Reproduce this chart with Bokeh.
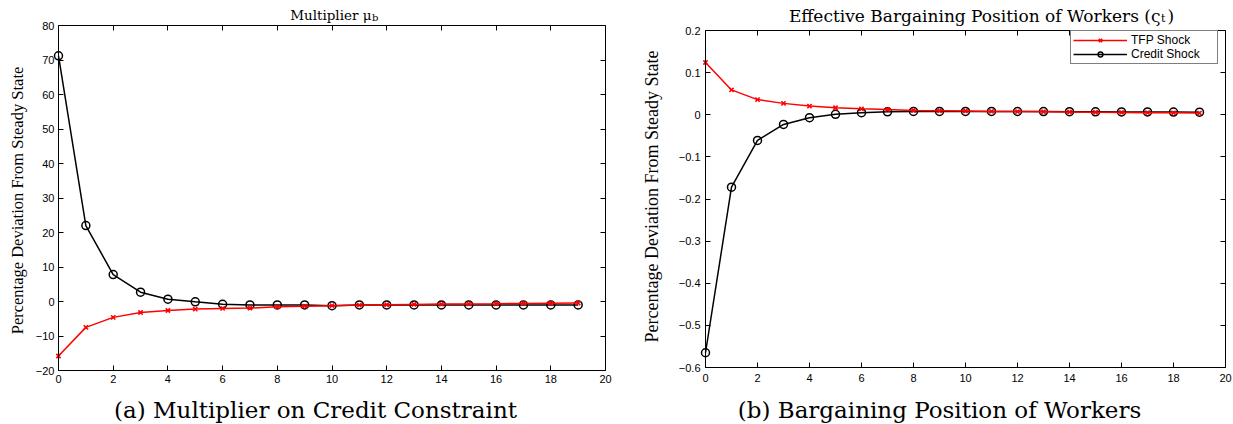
import math
from bokeh.plotting import figure
from bokeh.models import (Range1d, LinearAxis, FixedTicker, Label, Legend,
                          LegendItem, CustomJSTickFormatter)
from bokeh.layouts import row
from bokeh.embed import file_html
from bokeh.resources import INLINE

# ---------------- data ----------------
periods = list(range(20))

# Panel (a): Multiplier mu_b
mu_tfp = [-15.8, -7.5, -4.6, -3.2, -2.6, -2.2, -2.0, -1.9, -1.55, -1.35,
          -1.2, -1.05, -0.95, -0.85, -0.75, -0.7, -0.65, -0.55, -0.5, -0.45]
mu_credit = [71.2, 22.0, 7.8, 2.7, 0.67, -0.1, -0.8, -1.0, -1.0, -1.0,
             -1.2, -1.0, -1.0, -1.0, -1.0, -1.0, -1.0, -1.0, -1.0, -1.0]

# Panel (b): Effective bargaining position of workers
barg_tfp = [0.124, 0.059, 0.036, 0.027, 0.0205, 0.0165, 0.014, 0.0125, 0.010, 0.0095,
            0.009, 0.008, 0.0075, 0.007, 0.0065, 0.006, 0.0055, 0.005, 0.0045, 0.004]
barg_credit = [-0.565, -0.172, -0.061, -0.023, -0.007, 0.001, 0.005, 0.007, 0.0078, 0.0078,
               0.0078, 0.0078, 0.0077, 0.0075, 0.0073, 0.007, 0.0068, 0.0066, 0.0064, 0.0062]

x_ticks = [0, 2, 4, 6, 8, 10, 12, 14, 16, 18, 20]
x_tick_labels = ["0", "2", "4", "6", "8", "10", "12", "14", "16", "18", "20"]
ya_ticks = [-20, -10, 0, 10, 20, 30, 40, 50, 60, 70, 80]
ya_tick_labels = ["\u221220", "\u221210", "0", "10", "20", "30", "40", "50", "60", "70", "80"]
yb_ticks = [-0.6, -0.5, -0.4, -0.3, -0.2, -0.1, 0.0, 0.1, 0.2]
yb_tick_labels = ["\u22120.6", "\u22120.5", "\u22120.4", "\u22120.3", "\u22120.2", "\u22120.1",
                  "0", "0.1", "0.2"]

series_names = ["TFP Shock", "Credit Shock"]
ylabel_text = "Percentage Deviation From Steady State"

# ---------------- layout / style ----------------
H = 424
RED = "#ff0000"
BLACK = "#000000"
SERIF = "Liberation Serif"
SERIF2 = "DejaVu Serif"
SANS = "Liberation Sans"

JS_FMT = """
let best = 0, d = Infinity;
for (let i = 0; i < tv.length; i++) {
  const e = Math.abs(tv[i] - tick);
  if (e < d) { d = e; best = i; }
}
return tl[best];
"""


def label_formatter(ticks, labels):
    return CustomJSTickFormatter(args=dict(tv=ticks, tl=labels), code=JS_FMT)


def style_axis(ax, ticks, labels, show, loc, bounds, standoff=4):
    ax.ticker = FixedTicker(ticks=ticks)
    ax.fixed_location = loc
    ax.bounds = bounds
    ax.major_tick_in = 5
    ax.major_tick_out = 0
    ax.minor_tick_line_color = None
    ax.axis_line_color = BLACK
    ax.axis_line_width = 1
    ax.major_tick_line_color = BLACK
    ax.major_tick_line_width = 1
    ax.major_label_text_font = SANS
    ax.major_label_text_font_size = "11px"
    ax.major_label_text_color = BLACK
    if show:
        ax.formatter = label_formatter(ticks, labels)
        ax.major_label_standoff = standoff
    else:
        ax.formatter = CustomJSTickFormatter(code="return ''")
        ax.major_label_standoff = 0


def make_fig(width, box, yr, yticks, ylabels, xstand, ystand):
    # box = (left, right, top, bottom) pixel edges of the axes box inside the canvas
    left, right, top, bottom = box
    x0, x1 = 0.0, 20.0
    y0, y1 = yr
    xpp = (right - left) / (x1 - x0)
    ypp = (bottom - top) / (y1 - y0)
    xr = Range1d(x0 - left / xpp, x1 + (width - right) / xpp)
    yrng = Range1d(y0 - (H - bottom) / ypp, y1 + top / ypp)
    p = figure(width=width, height=H, x_range=xr, y_range=yrng,
               output_backend="svg", toolbar_location=None,
               min_border=0, min_border_left=0, min_border_right=0,
               min_border_top=0, min_border_bottom=0)
    p.title.visible = False
    p.xgrid.visible = False
    p.ygrid.visible = False
    p.outline_line_color = None
    p.background_fill_color = "white"
    p.border_fill_color = "white"
    style_axis(p.xaxis[0], x_ticks, x_tick_labels, True, y0, (x0, x1), xstand)
    style_axis(p.yaxis[0], yticks, ylabels, True, x0, (y0, y1), ystand)
    top_ax = LinearAxis()
    style_axis(top_ax, x_ticks, x_tick_labels, False, y1, (x0, x1))
    p.add_layout(top_ax, "above")
    right_ax = LinearAxis()
    style_axis(right_ax, yticks, ylabels, False, x1, (y0, y1))
    p.add_layout(right_ax, "right")
    return p


def add_text(p, text, x, y_img, font, size, align="center", angle=0.0):
    # y_img: vertical centre of the text in picture pixels (from the top)
    p.add_layout(Label(x=x, y=H - y_img, x_units="screen", y_units="screen", text=text,
                       text_font=font, text_font_size=size, text_color=BLACK,
                       text_align=align, text_baseline="middle", angle=angle))


def draw_series(p, tfp, credit):
    bl = p.line(periods, credit, line_color=BLACK, line_width=1.5)
    bs = p.scatter(periods, credit, marker="circle", size=8, line_color=BLACK,
                   line_width=1.5, fill_color=None)
    rl = p.line(periods, tfp, line_color=RED, line_width=1.5)
    rs = p.scatter(periods, tfp, marker="x", size=6, line_color=RED, line_width=1.6)
    return (rl, rs), (bl, bs)


# ---------------- panel (a) ----------------
p1 = make_fig(640, (58, 605, 25, 370), (-20, 80), ya_ticks, ya_tick_labels, 4, 4)
draw_series(p1, mu_tfp, mu_credit)
add_text(p1, "Multiplier \u03bc", 371, 14, SERIF2, "13.5px", align="right")
add_text(p1, "b", 371.5, 17, SERIF2, "10px", align="left")
add_text(p1, ylabel_text, 17, 200, SERIF, "16.5px", angle=math.pi / 2)
add_text(p1, "(a) Multiplier on Credit Constraint", 315, 409, SERIF2, "23px")

# ---------------- panel (b) ----------------
p2 = make_fig(593, (65, 585, 30, 367), (-0.6, 0.2), yb_ticks, yb_tick_labels, 6, 5)
(rl, rs), (bl, bs) = draw_series(p2, barg_tfp, barg_credit)
add_text(p2, "Effective Bargaining Position of Workers (\u03c2", 520, 15, SERIF2, "17px", align="right")
add_text(p2, "t", 520.5, 18, SERIF2, "11px", align="left")
add_text(p2, ")", 527, 15, SERIF2, "17px", align="left")
add_text(p2, ylabel_text, 11, 196, SERIF, "18px", angle=math.pi / 2)
add_text(p2, "(b) Bargaining Position of Workers", 299, 409, SERIF2, "23px")

legend = Legend(items=[LegendItem(label=series_names[0], renderers=[rl, rs]),
                       LegendItem(label=series_names[1], renderers=[bl, bs])],
                location=(430, H - 64), margin=0, padding=2, spacing=0,
                glyph_width=54, glyph_height=12, label_height=12, label_width=84,
                label_standoff=4, label_text_font=SANS, label_text_font_size="12px",
                label_text_color=BLACK, border_line_color=BLACK, border_line_width=1,
                background_fill_color="white", background_fill_alpha=1.0)
p2.add_layout(legend, "center")

layout = row(p1, p2, spacing=0)
open("out.html", "w").write(file_html(layout, INLINE))
